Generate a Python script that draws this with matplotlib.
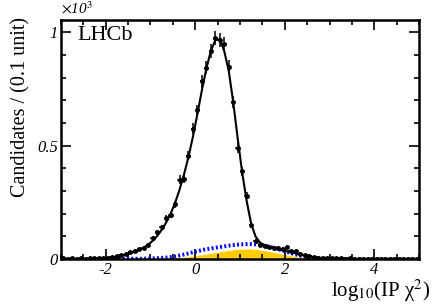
import numpy as np
import matplotlib
matplotlib.use("Agg")
import matplotlib.pyplot as plt
from matplotlib.ticker import MultipleLocator

plt.rcParams["font.family"] = ["Liberation Serif", "DejaVu Serif"]
plt.rcParams["mathtext.fontset"] = "stix"

# bin centres, 0.1 wide, from -3 to 5
bin_centres = np.round(np.arange(-2.95, 5.0, 0.1), 2)

# candidates per bin (x10^3)
data_vals = [
    0.002, 0.001, 0.002, 0.001, 0.002, 0.001, 0.002, 0.003, 0.003, 0.004,
    0.006, 0.009, 0.013, 0.017, 0.023, 0.030, 0.036, 0.043, 0.050, 0.062,
    0.092, 0.117, 0.139, 0.180, 0.195, 0.242, 0.350, 0.352, 0.456, 0.574,
    0.655, 0.783, 0.844, 0.917, 0.976, 0.965, 0.947, 0.846, 0.690, 0.488,
    0.386, 0.279, 0.148, 0.079, 0.062, 0.056, 0.052, 0.050, 0.048, 0.046,
    0.052, 0.035, 0.033, 0.024, 0.018, 0.013, 0.009, 0.006, 0.004, 0.003,
    0.002, 0.002, 0.002, 0.001, 0.002, 0.001, 0.001, 0.001, 0.001, 0.001,
    0.001, 0.001, 0.001, 0.001, 0.001, 0.001, 0.001, 0.001, 0.001, 0.001,
]

# total fit, read at the bin centres
fit_vals = [
    0.001, 0.001, 0.001, 0.001, 0.001, 0.002, 0.002, 0.002, 0.003, 0.004,
    0.005, 0.007, 0.010, 0.014, 0.019, 0.025, 0.032, 0.040, 0.050, 0.063,
    0.080, 0.101, 0.128, 0.160, 0.199, 0.247, 0.305, 0.373, 0.450, 0.540,
    0.640, 0.745, 0.840, 0.918, 0.965, 0.968, 0.915, 0.828, 0.690, 0.530,
    0.380, 0.255, 0.155, 0.098, 0.072, 0.060, 0.053, 0.048, 0.043, 0.038,
    0.034, 0.029, 0.024, 0.019, 0.015, 0.011, 0.008, 0.006, 0.004, 0.003,
    0.002, 0.002, 0.002, 0.002, 0.001, 0.001, 0.001, 0.001, 0.001, 0.001,
    0.001, 0.001, 0.001, 0.001, 0.001, 0.001, 0.001, 0.001, 0.001, 0.001,
]

# components
comp_x = [-2.0, -1.6, -1.2, -1.0, -0.8, -0.6, -0.4, -0.2, 0.0, 0.2, 0.4, 0.6,
          0.8, 1.0, 1.2, 1.4, 1.6, 1.8, 2.0, 2.2, 2.4, 2.6, 2.8, 3.0]
yellow_vals = [0.0, 0.0, 0.0, 0.0, 0.001, 0.002, 0.005, 0.009, 0.014, 0.020,
               0.027, 0.033, 0.039, 0.043, 0.044, 0.041, 0.035, 0.027, 0.019,
               0.011, 0.005, 0.001, 0.0, 0.0]
blue_vals = [0.0, 0.001, 0.001, 0.002, 0.004, 0.007, 0.013, 0.022, 0.032, 0.041,
             0.048, 0.054, 0.060, 0.064, 0.066, 0.064, 0.057, 0.046, 0.034,
             0.022, 0.012, 0.005, 0.001, 0.0]


def main():
    fig = plt.figure(figsize=(4.32, 3.05), dpi=100)
    ax = fig.add_axes([0.141, 0.151, 0.829, 0.783])

    ax.fill_between(comp_x, yellow_vals, color="#ffcc00", lw=0, zorder=1)
    ax.plot(comp_x, blue_vals, color="#0000ff", lw=2.8,
            linestyle=(0, (0.5, 0.6)), zorder=2)
    ax.plot(bin_centres, fit_vals, color="black", lw=1.5, zorder=3)

    vals = np.array(data_vals)
    yerr = np.sqrt(vals * 1000) / 1000
    ax.errorbar(bin_centres, vals, yerr=yerr, xerr=0.05, fmt="o",
                ms=2.5, color="black", elinewidth=1.1, capsize=0, zorder=4)

    ax.set_xlim(-3, 5)
    ax.set_ylim(0, 1.053)
    ax.xaxis.set_major_locator(MultipleLocator(2))
    ax.xaxis.set_minor_locator(MultipleLocator(0.5))
    ax.yaxis.set_major_locator(MultipleLocator(0.5))
    ax.yaxis.set_minor_locator(MultipleLocator(0.1))
    ax.tick_params(which="both", direction="in", top=True, right=True,
                   width=1.2, labelsize=12)
    ax.tick_params(which="major", length=7, pad=2)
    ax.tick_params(which="minor", length=3.5)
    ax.set_xticks([-2, 0, 2, 4])
    ax.set_xticklabels(["-2", "0", "2", "4"], style="italic")
    ax.set_yticks([0, 0.5, 1])
    ax.set_yticklabels(["0", "0.5", "1"], style="italic")
    for s in ax.spines.values():
        s.set_linewidth(1.8)

    ax.text(0.045, 0.975, "LHCb", transform=ax.transAxes, fontsize=16,
            va="top", ha="left")
    fig.text(0.141, 0.998, r"$\times$10$^{3}$", fontsize=11, style="italic",
             va="top", ha="left")
    fig.text(21 / 432, 1 - 17 / 305, "Candidates / (0.1 unit)", fontsize=14.5,
             rotation=90, ha="center", va="top")
    fig.text(0.995, 0.002, r"log$_{10}$(IP χ$^{2}$)", fontsize=15,
             ha="right", va="bottom")

    fig.savefig("out.png", dpi=100)
    plt.close(fig)


if __name__ == "__main__":
    main()
